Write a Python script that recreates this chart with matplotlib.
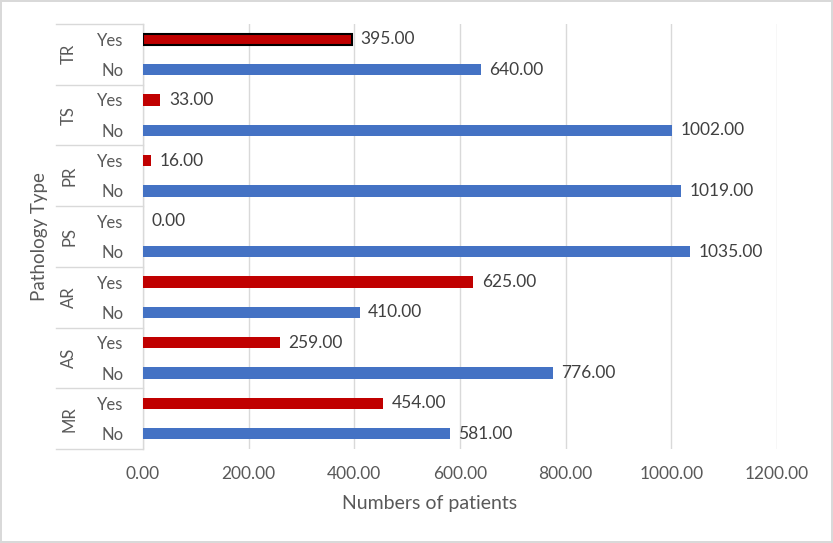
import matplotlib.pyplot as plt
import matplotlib.transforms as mtransforms
import numpy as np

# pathology groups, bottom to top
groups = ['MR', 'AS', 'AR', 'PS', 'PR', 'TS', 'TR']
sub_labels = ['No', 'Yes']
no_values = [581, 776, 410, 1035, 1019, 1002, 640]
yes_values = [454, 259, 625, 0, 16, 33, 395]

blue = '#4472C4'
red = '#C00000'
grey_text = '#595959'
grid_col = '#D9D9D9'

plt.rcParams['font.family'] = ['Lato', 'DejaVu Sans']

W, H = 833, 543
fig = plt.figure(figsize=(W / 100, H / 100), dpi=100)
fig.patch.set_edgecolor(grid_col)
fig.patch.set_linewidth(1.5)

left, right, top, bottom = 143, 777, 24, 449
ax = fig.add_axes([left / W, 1 - bottom / H, (right - left) / W, (bottom - top) / H])

values, colors, labels = [], [], []
for n, y in zip(no_values, yes_values):
    values += [n, y]
    colors += [blue, red]
    labels += sub_labels
pos = np.arange(len(values))

bars = ax.barh(pos, values, height=0.37, color=colors, zorder=3)
# the selected bar in the source has a black outline
bars[-1].set_edgecolor('black')
bars[-1].set_linewidth(1.5)

for p, v in zip(pos, values):
    ax.text(v + 16, p, format(v, '.2f'), va='center', ha='left',
            fontsize=12.5, color='#404040')

ax.set_xlim(0, 1200)
ax.set_ylim(-0.5, len(values) - 0.5)
ax.set_xticks(np.arange(0, 1201, 200))
ax.set_xticklabels([format(t, '.2f') for t in np.arange(0, 1201, 200)])
ax.set_yticks(pos)
ax.set_yticklabels(labels)
ax.tick_params(axis='y', length=0, pad=14, labelsize=12, labelcolor=grey_text)
ax.tick_params(axis='x', length=0, pad=12, labelsize=12.5, labelcolor=grey_text)
ax.grid(axis='x', color=grid_col, linewidth=1.0, zorder=0)
for s in ['top', 'right', 'bottom']:
    ax.spines[s].set_visible(False)
ax.spines['left'].set_color(grid_col)
ax.spines['left'].set_linewidth(1.0)

# multi-level category axis
trans = mtransforms.blended_transform_factory(ax.transAxes, ax.transData)
x_line = (56 - left) / (right - left)
x_group = (69 - left) / (right - left)
for i, g in enumerate(groups):
    ax.text(x_group, 2 * i + 0.5, g, rotation=90, ha='center', va='center',
            fontsize=12, color=grey_text, transform=trans)
for b in np.arange(-0.5, len(values), 2):
    ax.plot([x_line, 0], [b, b], color=grid_col, linewidth=1.0,
            transform=trans, clip_on=False)

fig.text(430 / W, 1 - 503 / H, 'Numbers of patients', ha='center', va='center',
         fontsize=14, color=grey_text)
fig.text(40 / W, 1 - 237 / H, 'Pathology Type', rotation=90, ha='center',
         va='center', fontsize=13.5, color=grey_text)

fig.savefig('out.png', dpi=100, edgecolor=fig.get_edgecolor())
